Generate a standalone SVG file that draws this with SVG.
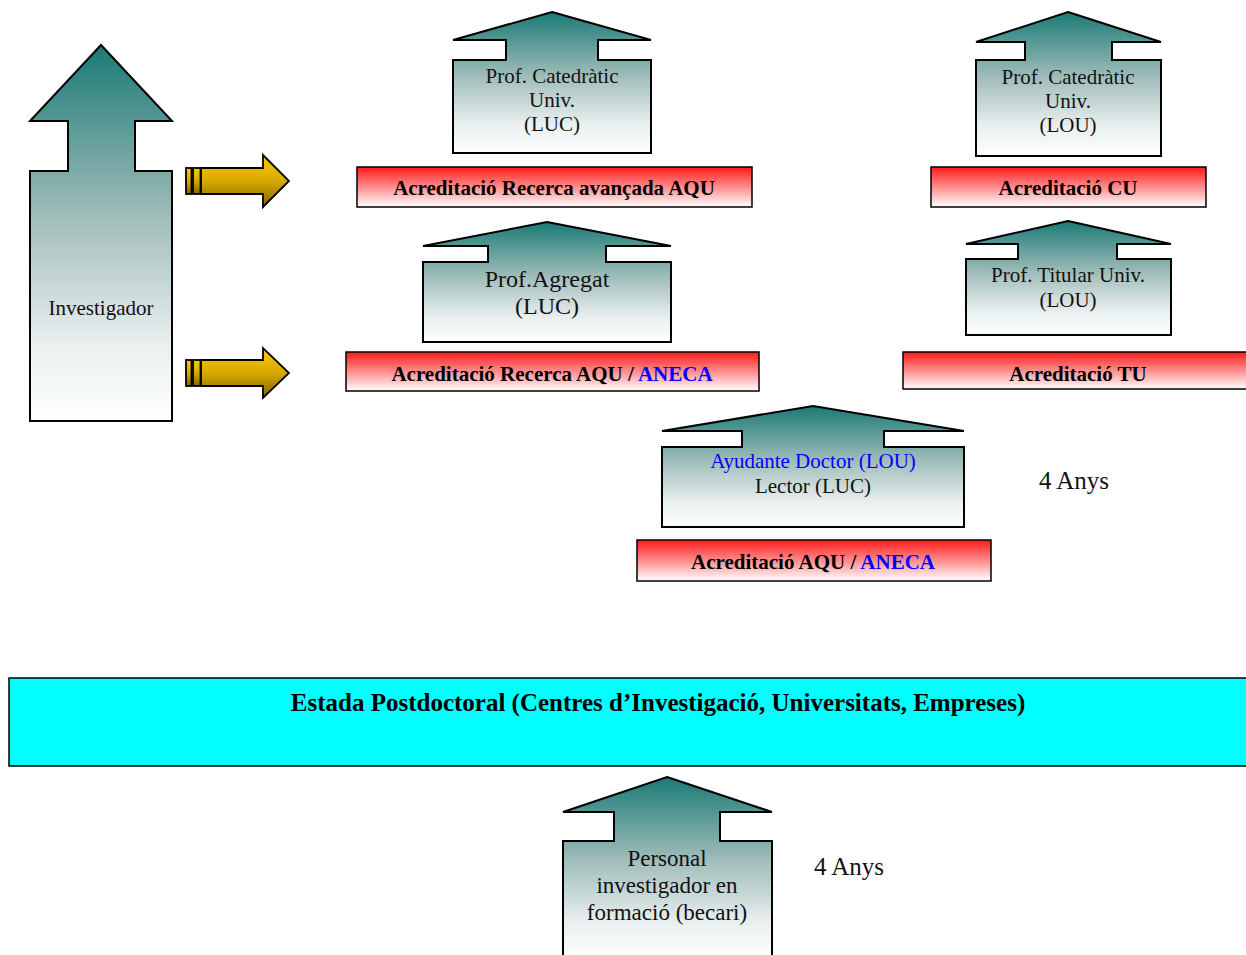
<svg xmlns="http://www.w3.org/2000/svg" width="1246" height="955" viewBox="0 0 1246 955">
<defs>
<linearGradient id="teal" x1="0" y1="0" x2="0" y2="1">
<stop offset="0" stop-color="#1a7a76"/>
<stop offset="0.45" stop-color="#9fbcb9"/>
<stop offset="0.8" stop-color="#eaf0f0"/>
<stop offset="1" stop-color="#ffffff"/>
</linearGradient>
<linearGradient id="gold" x1="0" y1="0" x2="0" y2="1">
<stop offset="0" stop-color="#ffcc00"/>
<stop offset="0.5" stop-color="#d9a800"/>
<stop offset="1" stop-color="#806400"/>
</linearGradient>
<linearGradient id="red" x1="0" y1="0" x2="0" y2="1">
<stop offset="0" stop-color="#ff1a1a"/>
<stop offset="1" stop-color="#ffffff"/>
</linearGradient>
</defs>
<style>
.up{fill:url(#teal);stroke:#000;stroke-width:2;stroke-linejoin:miter}
.gold{fill:url(#gold);stroke:#000;stroke-width:1.8}
.bar{fill:url(#red);stroke:#000;stroke-width:1.5}
.cyan{fill:#00ffff;stroke:#000;stroke-width:1.5}
.t{font-family:"Liberation Serif","Times New Roman",serif;font-size:21px;fill:#111;text-anchor:middle}
.b{font-family:"Liberation Serif","Times New Roman",serif;font-size:21px;font-weight:bold;fill:#000;text-anchor:middle}
.blue{fill:#0000ff}
</style>
<rect width="1246" height="955" fill="#fff"/>

<g id="investigador">
<polygon class="up" points="101,45 172,121 135,121 135,171 172,171 172,421 30,421 30,171 68,171 68,121 30,121"/>
<text class="t" x="101" y="315">Investigador</text>
</g>

<g id="connectors">
<g id="arrow-top">
<rect class="gold" x="186" y="168" width="5.5" height="26"/>
<rect class="gold" x="193" y="168" width="7.5" height="26"/>
<polygon class="gold" points="201,168 263,168 263,155 289,181 263,207 263,194 201,194"/>
</g>
<g id="arrow-bottom">
<rect class="gold" x="186" y="360" width="5.5" height="26"/>
<rect class="gold" x="193" y="360" width="7.5" height="26"/>
<polygon class="gold" points="201,360 263,360 263,348 289,373 263,398 263,386 201,386"/>
</g>
</g>

<g id="cat-luc">
<polygon class="up" points="552,12 651,40 598,40 598,60 651,60 651,153 453,153 453,60 506,60 506,40 453,40"/>
<text class="t" x="552" y="83">Prof. Catedràtic</text>
<text class="t" x="552" y="107">Univ.</text>
<text class="t" x="552" y="131">(LUC)</text>
</g>

<g id="bar-recerca-avancada">
<rect class="bar" x="357" y="167" width="395" height="40"/>
<text class="b" x="554" y="195">Acreditació Recerca avançada AQU</text>
</g>

<g id="cat-lou">
<polygon class="up" points="1068,12 1161,42 1112,42 1112,60 1161,60 1161,156 976,156 976,60 1025,60 1025,42 976,42"/>
<text class="t" x="1068" y="84">Prof. Catedràtic</text>
<text class="t" x="1068" y="108">Univ.</text>
<text class="t" x="1068" y="132">(LOU)</text>
</g>

<g id="bar-cu">
<rect class="bar" x="931" y="167" width="275" height="40"/>
<text class="b" x="1068" y="195">Acreditació CU</text>
</g>

<g id="agregat">
<polygon class="up" points="547,222 671,246 606,246 606,262 671,262 671,342 423,342 423,262 488,262 488,246 423,246"/>
<text class="t" x="547" y="287" style="font-size:24px">Prof.Agregat</text>
<text class="t" x="547" y="314" style="font-size:24px">(LUC)</text>
</g>

<g id="bar-recerca">
<rect class="bar" x="346" y="352" width="413" height="39"/>
<text class="b" x="552" y="381">Acreditació Recerca AQU / <tspan class="blue">ANECA</tspan></text>
</g>

<g id="titular">
<polygon class="up" points="1068,221 1171,244 1117,244 1117,259 1171,259 1171,335 966,335 966,259 1018,259 1018,244 966,244"/>
<text class="t" x="1068" y="282">Prof. Titular Univ.</text>
<text class="t" x="1068" y="307">(LOU)</text>
</g>

<g id="bar-tu">
<rect class="bar" x="903" y="352" width="360" height="37"/>
<text class="b" x="1078" y="381">Acreditació TU</text>
</g>

<g id="ayudante">
<polygon class="up" points="813,406 964,431 884,431 884,447 964,447 964,527 662,527 662,447 742,447 742,431 662,431"/>
<text class="t" x="813" y="468"><tspan class="blue">Ayudante Doctor (LOU)</tspan></text>
<text class="t" x="813" y="493">Lector (LUC)</text>
</g>

<text class="t" x="1074" y="489" style="font-size:25px">4 Anys</text>

<g id="bar-aqu">
<rect class="bar" x="637" y="540" width="354" height="41"/>
<text class="b" x="813" y="569">Acreditació AQU / <tspan class="blue">ANECA</tspan></text>
</g>

<g id="postdoc">
<rect class="cyan" x="9" y="678" width="1250" height="88"/>
<text class="b" x="658" y="711" style="font-size:25px">Estada Postdoctoral (Centres d’Investigació, Universitats, Empreses)</text>
</g>

<g id="becari">
<polygon class="up" points="667,777 772,812 720,812 720,841 772,841 772,960 563,960 563,841 614,841 614,812 563,812"/>
<text class="t" x="667" y="866" style="font-size:23px">Personal</text>
<text class="t" x="667" y="893" style="font-size:23px">investigador en</text>
<text class="t" x="667" y="920" style="font-size:23px">formació (becari)</text>
</g>

<text class="t" x="849" y="875" style="font-size:25px">4 Anys</text>
</svg>
